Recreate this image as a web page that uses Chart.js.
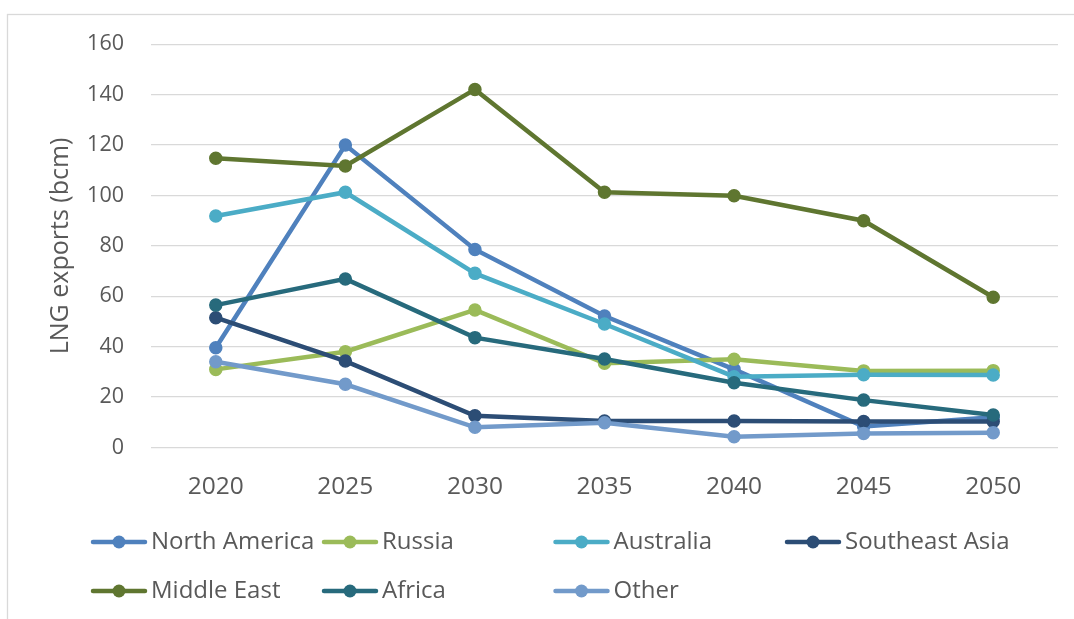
<!DOCTYPE html>
<html>
<head>
<meta charset="utf-8">
<title>LNG exports by region</title>
<script src="https://cdn.jsdelivr.net/npm/chart.js@4.4.1/dist/chart.umd.min.js"></script>
<style>
  html, body { margin: 0; padding: 0; background: #ffffff; overflow: hidden; }
  canvas { display: block; }
</style>
</head>
<body>
<canvas id="chart" width="1074" height="619"></canvas>
<script>
// Categories (years)
const years = ['2020', '2025', '2030', '2035', '2040', '2045', '2050'];

// LNG exports by region, bcm
const northAmerica  = [39.6, 120.0, 78.6, 52.2, 31.0, 8.3, 12.0];
const russia        = [31.0, 38.0, 54.6, 33.4, 35.0, 30.4, 30.5];
const australia     = [91.9, 101.3, 69.1, 49.0, 28.1, 28.9, 28.8];
const southeastAsia = [51.5, 34.3, 12.6, 10.5, 10.5, 10.3, 10.3];
const middleEast    = [114.8, 111.7, 142.1, 101.3, 99.9, 90.0, 59.6];
const africa        = [56.5, 66.9, 43.6, 35.1, 25.7, 18.8, 12.9];
const other         = [34.0, 25.1, 8.0, 9.8, 4.3, 5.6, 5.9];

// Y axis ticks
const yMin = 0, yMax = 160, yStep = 20;

const seriesNames = ['North America', 'Russia', 'Australia', 'Southeast Asia', 'Middle East', 'Africa', 'Other'];
const seriesValues = [northAmerica, russia, australia, southeastAsia, middleEast, africa, other];
const seriesColors = ['#4f81bd', '#9bbb59', '#4bacc6', '#2c4d75', '#5f7630', '#276a7c', '#729aca'];

const FONT = "'Open Sans', 'Liberation Sans', sans-serif";
const TEXT = '#595959';
const GRID = '#d9d9d9';

const datasets = seriesNames.map((name, i) => ({
  label: name,
  data: seriesValues[i],
  borderColor: seriesColors[i],
  backgroundColor: seriesColors[i],
  pointBackgroundColor: seriesColors[i],
  pointBorderColor: seriesColors[i],
  borderWidth: 4.5,
  pointRadius: 6,
  pointBorderWidth: 1.5,
  pointHoverRadius: 6,
  tension: 0,
  // later series sit on top of earlier ones
  order: seriesNames.length - i
}));

// White background and the light frame around the chart
const framePlugin = {
  id: 'frame',
  beforeDraw(chart) {
    const ctx = chart.ctx;
    ctx.save();
    ctx.fillStyle = '#ffffff';
    ctx.fillRect(0, 0, chart.width, chart.height);
    ctx.strokeStyle = GRID;
    ctx.lineWidth = 1.3;
    ctx.strokeRect(7.5, 14.5, chart.width + 20, chart.height + 20);
    ctx.restore();
  }
};

// Legend laid out in fixed columns, two rows
const gridLegendPlugin = {
  id: 'gridLegend',
  afterDraw(chart) {
    const ctx = chart.ctx;
    const cols = [91, 322, 553.5, 785];
    const rows = [542, 591];
    const lineLen = 56;
    ctx.save();
    ctx.font = '24px ' + FONT;
    ctx.textBaseline = 'middle';
    ctx.textAlign = 'left';
    chart.data.datasets.forEach((ds, i) => {
      const x = cols[i % 4];
      const y = rows[Math.floor(i / 4)];
      ctx.strokeStyle = ds.borderColor;
      ctx.lineWidth = 4.5;
      ctx.lineCap = 'round';
      ctx.beginPath();
      ctx.moveTo(x + 2, y);
      ctx.lineTo(x + lineLen - 2, y);
      ctx.stroke();
      ctx.fillStyle = ds.borderColor;
      ctx.beginPath();
      ctx.arc(x + lineLen / 2, y, 6.5, 0, Math.PI * 2);
      ctx.fill();
      ctx.fillStyle = TEXT;
      ctx.fillText(ds.label, x + lineLen + 4, y + 0.5);
    });
    ctx.restore();
  }
};

new Chart(document.getElementById('chart'), {
  type: 'line',
  data: { labels: years, datasets },
  plugins: [framePlugin, gridLegendPlugin],
  options: {
    responsive: false,
    animation: false,
    devicePixelRatio: 1,
    layout: { padding: { left: 0, top: 44.3, right: 16, bottom: 111.5 } },
    plugins: {
      legend: { display: false },
      tooltip: { enabled: false },
      title: { display: false }
    },
    scales: {
      x: {
        offset: true,
        grid: { display: false, drawTicks: false },
        border: { display: false },
        ticks: { color: TEXT, font: { family: FONT, size: 24.5 }, padding: 25 },
        afterFit(scale) { scale.height = 60; }
      },
      y: {
        min: yMin,
        max: yMax,
        grid: { color: GRID, lineWidth: 1.3, drawTicks: false },
        border: { display: false },
        ticks: { stepSize: yStep, color: TEXT, font: { family: FONT, size: 21.5 }, padding: 27 },
        title: {
          display: true,
          text: 'LNG exports (bcm)',
          color: TEXT,
          font: { family: FONT, size: 25 },
          padding: { top: 46, bottom: 0 }
        },
        afterFit(scale) { scale.width = 151; }
      }
    }
  }
});
</script>
</body>
</html>
